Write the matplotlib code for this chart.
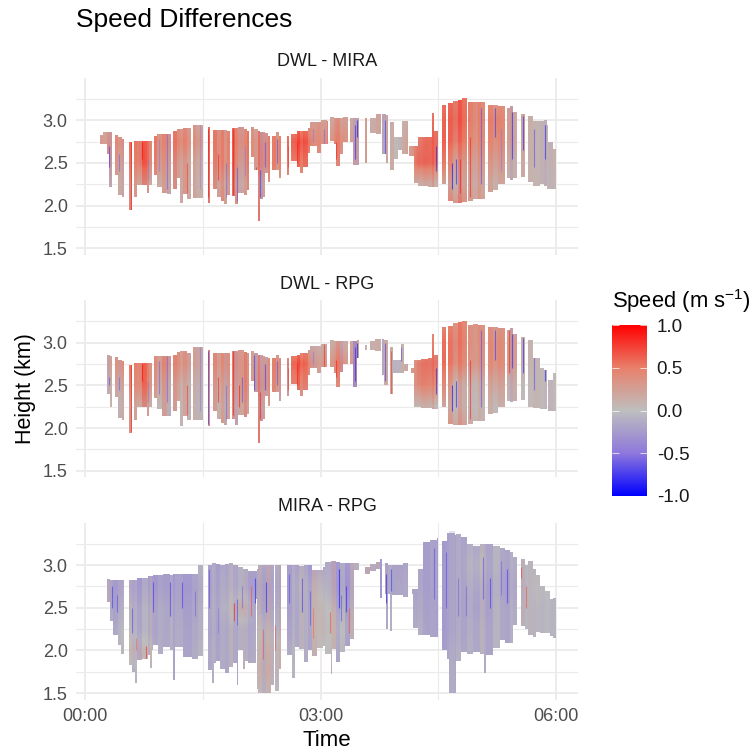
#!/bin/env python
# coding=utf-8

import numpy as np
import matplotlib
matplotlib.use("Agg")
import matplotlib.pyplot as plt
from matplotlib.colors import LinearSegmentedColormap, Normalize
from matplotlib.cm import ScalarMappable
from matplotlib.path import Path

plt.rcParams["font.family"] = "Liberation Sans"
plt.rcParams["mathtext.fontset"] = "custom"
plt.rcParams["mathtext.rm"] = "Liberation Sans"
plt.rcParams["mathtext.default"] = "rm"

panel_names = ["DWL - MIRA", "DWL - RPG", "MIRA - RPG"]
x_ticks = [0, 3, 6]
x_labels = ["00:00", "03:00", "06:00"]
y_ticks = [1.5, 2.0, 2.5, 3.0]
y_labels = ["1.5", "2.0", "2.5", "3.0"]
cbar_ticks = [-1.0, -0.5, 0.0, 0.5, 1.0]
GAP = (None, None, None)

# cloud columns, each row: left edge in hours, then (top km, base km, column mean m/s) or GAP
mira_cols = [
    (0.19, 2.83, 2.72, .3), (0.23, 2.86, 2.72, .1), (0.28, 2.86, 2.60, .5), (0.30, 2.86, 2.22, -.3),
    (0.34, *GAP),
    (0.38, 2.83, 2.36, .4), (0.42, 2.80, 2.12, .1), (0.47, 2.78, 2.10, -.2),
    (0.50, *GAP),
    (0.56, 2.74, 1.95, .7),
    (0.60, *GAP),
    (0.62, 2.76, 2.10, .5), (0.66, 2.76, 2.24, .2), (0.72, 2.76, 2.24, .8), (0.785, 2.76, 2.15, .6), (0.82, 2.76, 2.24, .1),
    (0.85, *GAP),
    (0.875, 2.82, 2.36, .6), (0.92, 2.84, 2.22, .1), (0.98, 2.84, 2.15, .5), (1.04, 2.84, 2.14, -.2),
    (1.095, *GAP),
    (1.125, 2.87, 2.20, .7), (1.175, 2.90, 2.32, .3), (1.21, 2.90, 2.03, .1), (1.245, 2.91, 2.14, .5), (1.295, 2.91, 2.08, .1),
    (1.345, *GAP),
    (1.37, 2.95, 2.09, .3), (1.42, 2.95, 2.09, .0),
    (1.50, *GAP),
    (1.566, 2.92, 2.03, .9),
    (1.595, *GAP),
    (1.634, 2.89, 2.20, .7), (1.68, 2.89, 2.10, .3), (1.727, 2.89, 2.06, .6), (1.775, 2.89, 2.02, .1), (1.81, 2.88, 2.13, .5),
    (1.846, *GAP),
    (1.87, 2.91, 2.11, .9), (1.91, 2.91, 2.02, .5), (1.95, 2.92, 2.15, -.1), (2.02, 2.90, 2.13, .4), (2.06, 2.88, 2.18, .7),
    (2.09, *GAP),
    (2.12, 2.92, 2.57, .3), (2.15, 2.90, 2.42, .0), (2.20, 2.88, 1.82, .8), (2.23, 2.86, 2.08, -.4), (2.27, 2.86, 2.10, .4), (2.29, 2.85, 2.38, -.2), (2.335, 2.82, 2.28, .6),
    (2.355, *GAP),
    (2.38, 2.82, 2.42, .6), (2.43, 2.86, 2.42, .1), (2.475, 2.82, 2.32, .5),
    (2.50, *GAP),
    (2.57, 2.82, 2.36, .6),
    (2.60, *GAP),
    (2.63, 2.84, 2.52, .6), (2.695, 2.87, 2.45, .9), (2.74, 2.87, 2.38, .5), (2.78, 2.87, 2.45, .8), (2.84, 2.91, 2.62, .4), (2.87, 2.98, 2.70, .2), (2.95, 2.98, 2.62, .4), (3.01, 3.00, 2.72, .2), (3.08, 2.99, 2.72, .6),
    (3.10, *GAP),
    (3.12, 3.04, 2.76, .1), (3.17, 3.03, 2.72, .5), (3.20, 3.03, 2.47, .6), (3.245, 3.03, 2.60, .2), (3.29, 3.04, 2.74, .3),
    (3.35, *GAP),
    (3.37, 3.03, 2.74, .1), (3.42, 3.03, 2.48, -.3),
    (3.49, *GAP),
    (3.565, 3.03, 2.50, .5),
    (3.595, *GAP),
    (3.63, 3.03, 2.85, .2), (3.71, 3.07, 2.84, .4),
    (3.765, *GAP),
    (3.78, 3.07, 2.60, -.4), (3.84, 3.06, 2.50, .4),
    (3.86, *GAP),
    (3.885, 2.98, 2.42, .3), (3.93, 2.80, 2.55, .0), (3.99, 2.80, 2.65, -.1), (4.04, 2.99, 2.61, .1),
    (4.11, *GAP),
    (4.13, 2.70, 2.58, .0), (4.19, 2.70, 2.26, .3), (4.245, 2.80, 2.23, .2), (4.30, 2.80, 2.23, .4),
    (4.365, *GAP),
    (4.375, 2.80, 2.22, .3), (4.42, 3.08, 2.22, .6), (4.445, 2.87, 2.22, .1),
    (4.50, *GAP),
    (4.55, 3.18, 2.25, .5),
    (4.605, *GAP),
    (4.63, 3.20, 2.05, .6), (4.69, 3.23, 2.03, .2), (4.755, 3.24, 2.03, .8), (4.80, 3.26, 2.04, .5),
    (4.86, *GAP),
    (4.885, 3.21, 2.05, .3), (4.945, 3.22, 2.08, .1), (5.00, 3.21, 2.08, .5), (5.05, 3.21, 2.08, .2),
    (5.09, *GAP),
    (5.13, 3.18, 2.16, .4), (5.20, 3.18, 2.18, .1), (5.26, 3.17, 2.25, .4),
    (5.345, *GAP),
    (5.37, 3.15, 2.32, .1), (5.41, 3.17, 2.30, -.3), (5.455, 3.10, 2.32, .1),
    (5.50, *GAP),
    (5.55, 3.07, 2.33, .3),
    (5.60, *GAP),
    (5.64, 3.05, 2.28, .1), (5.71, 2.99, 2.23, .0), (5.795, 2.99, 2.25, -.1), (5.845, 3.00, 2.23, -.2), (5.88, 2.95, 2.20, .0), (5.90, 2.75, 2.20, -.1), (5.965, 2.66, 2.19, .1),
    (6.0, *GAP),
]

rpg_cols = [
    (0.285, 2.86, 2.40, -.2), (0.32, 2.84, 2.25, .1),
    (0.35, *GAP),
    (0.38, 2.83, 2.36, .3), (0.42, 2.80, 2.12, -.1), (0.47, 2.78, 2.09, .2),
    (0.50, *GAP),
    (0.56, 2.74, 1.94, .6),
    (0.60, *GAP),
    (0.62, 2.76, 2.09, .4), (0.66, 2.76, 2.25, .2), (0.72, 2.76, 2.25, .8), (0.785, 2.76, 2.14, .5), (0.82, 2.76, 2.25, .1),
    (0.85, *GAP),
    (0.875, 2.84, 2.35, .4), (0.92, 2.84, 2.22, .0), (0.98, 2.84, 2.14, .6), (1.04, 2.84, 2.14, -.2),
    (1.095, *GAP),
    (1.125, 2.86, 2.20, .6), (1.175, 2.89, 2.32, .4), (1.21, 2.90, 2.02, .0), (1.245, 2.90, 2.14, .4), (1.295, 2.88, 2.09, -.1),
    (1.345, *GAP),
    (1.37, 2.95, 2.09, .2), (1.42, 2.95, 2.09, -.1),
    (1.50, *GAP),
    (1.566, 2.91, 2.02, .7),
    (1.595, *GAP),
    (1.634, 2.88, 2.20, .6), (1.68, 2.88, 2.10, .1), (1.727, 2.88, 2.06, .5), (1.775, 2.88, 2.03, -.2), (1.81, 2.88, 2.11, .4),
    (1.846, *GAP),
    (1.87, 2.90, 2.11, .6), (1.91, 2.90, 2.03, -.3), (1.95, 2.91, 2.15, .3), (2.02, 2.89, 2.13, .7), (2.06, 2.88, 2.16, .4),
    (2.09, *GAP),
    (2.12, 2.90, 2.55, .2), (2.15, 2.88, 2.42, -.3), (2.20, 2.86, 1.82, .8), (2.23, 2.85, 2.08, -.3), (2.27, 2.84, 2.10, .4), (2.29, 2.83, 2.38, -.2), (2.335, 2.82, 2.26, .5),
    (2.355, *GAP),
    (2.38, 2.82, 2.42, .6), (2.43, 2.85, 2.42, .2), (2.475, 2.82, 2.32, -.2),
    (2.50, *GAP),
    (2.57, 2.82, 2.38, -.2),
    (2.60, *GAP),
    (2.63, 2.84, 2.52, .6), (2.695, 2.86, 2.45, .9), (2.74, 2.88, 2.38, .5), (2.78, 2.88, 2.45, .7), (2.84, 2.92, 2.62, .3), (2.87, 2.96, 2.70, -.1), (2.95, 2.96, 2.64, .1), (3.01, 2.98, 2.71, .2),
    (3.085, *GAP),
    (3.12, 3.03, 2.71, .1), (3.17, 3.02, 2.65, .3), (3.20, 3.02, 2.48, .6), (3.245, 3.02, 2.66, -.3), (3.29, 3.02, 2.75, .1),
    (3.35, *GAP),
    (3.37, 3.02, 2.75, .3), (3.42, 3.02, 2.48, -.7), (3.46, 3.03, 2.82, .2),
    (3.49, *GAP),
    (3.565, 2.97, 2.92, .0),
    (3.595, *GAP),
    (3.63, 3.02, 2.92, .2), (3.69, 3.04, 2.90, .3),
    (3.765, *GAP),
    (3.78, 3.04, 2.62, -.4), (3.81, 3.03, 2.50, .4),
    (3.86, *GAP),
    (3.885, 2.95, 2.40, .4), (3.92, 2.80, 2.65, -.2), (4.03, 2.99, 2.65, .1), (4.06, 2.75, 2.67, .0),
    (4.11, *GAP),
    (4.15, 2.70, 2.65, .0), (4.19, 2.80, 2.25, .1), (4.28, 2.81, 2.24, .3),
    (4.365, *GAP),
    (4.375, 2.82, 2.23, .2), (4.42, 3.10, 2.22, .5), (4.445, 2.86, 2.22, .0),
    (4.50, *GAP),
    (4.55, 3.18, 2.25, .5),
    (4.605, *GAP),
    (4.63, 3.20, 2.05, .5), (4.69, 3.23, 2.03, .0), (4.755, 3.24, 2.03, .6), (4.80, 3.25, 2.04, .3),
    (4.86, *GAP),
    (4.885, 3.21, 2.05, .1), (4.945, 3.22, 2.08, .0), (5.00, 3.21, 2.08, .3), (5.05, 3.21, 2.08, .1),
    (5.09, *GAP),
    (5.13, 3.18, 2.16, .3), (5.20, 3.18, 2.18, .0), (5.26, 3.17, 2.25, .3),
    (5.345, *GAP),
    (5.37, 3.15, 2.32, .1), (5.41, 3.17, 2.30, -.3), (5.455, 3.10, 2.32, .3),
    (5.50, *GAP),
    (5.55, 3.07, 2.33, .0),
    (5.60, *GAP),
    (5.64, 3.03, 2.25, .0), (5.71, 2.82, 2.23, .1), (5.795, 2.70, 2.22, .0), (5.845, 2.68, 2.22, -.1),
    (5.89, *GAP),
    (5.90, 2.56, 2.20, -.1), (5.965, 2.64, 2.20, .0),
    (6.0, *GAP),
]

mr_cols = [
    (0.285, 2.84, 2.57, .2), (0.32, 2.83, 2.35, -.2), (0.36, 2.83, 2.18, -.4), (0.42, 2.83, 2.06, -.2), (0.455, 2.83, 1.96, -.1),
    (0.50, *GAP),
    (0.56, 2.83, 1.83, .1), (0.60, 2.82, 1.75, -.2), (0.635, 2.82, 1.62, -.1), (0.66, 2.85, 1.89, -.4), (0.72, 2.85, 1.90, .0), (0.80, 2.87, 1.95, -.3), (0.83, 2.87, 1.79, .2), (0.85, 2.87, 2.00, -.3), (0.87, 2.88, 2.06, -.4), (0.93, 2.88, 1.96, -.2), (0.99, 2.90, 2.04, -.3), (1.08, 2.88, 2.00, -.1), (1.12, 2.90, 1.65, -.4), (1.145, 2.90, 2.04, -.2), (1.25, 2.90, 1.92, -.4), (1.36, 2.90, 1.90, -.2), (1.44, 3.00, 1.93, .0),
    (1.50, *GAP),
    (1.566, 3.00, 1.77, -.3), (1.62, 3.02, 1.62, -.1), (1.64, 3.02, 1.85, -.2), (1.67, 3.01, 1.88, -.4), (1.72, 3.00, 1.78, -.2), (1.78, 3.01, 1.73, -.3), (1.84, 3.02, 1.80, .1), (1.89, 3.00, 1.85, -.3), (1.93, 3.00, 1.59, -.4), (1.955, 2.98, 2.00, -.1), (2.01, 2.95, 1.78, .2), (2.04, 2.95, 1.88, -.2), (2.08, 2.93, 1.85, -.4), (2.175, 2.93, 2.60, -.3), (2.195, 2.95, 1.55, -.2), (2.21, 3.00, 1.50, .2), (2.25, 3.00, 1.50, -.3), (2.31, 3.00, 1.50, .3), (2.37, 3.00, 1.60, -.2),
    (2.41, *GAP),
    (2.425, 3.00, 1.52, -.1), (2.47, 3.00, 1.78, .3),
    (2.50, *GAP),
    (2.57, 3.00, 1.95, -.4), (2.64, 3.00, 1.68, -.1), (2.67, 3.00, 2.04, -.3), (2.73, 2.99, 2.02, .1), (2.79, 3.00, 1.87, -.2), (2.84, 3.00, 2.00, -.5), (2.89, 2.94, 1.93, .3), (2.96, 2.94, 2.03, .1), (3.03, 2.98, 2.05, -.1), (3.06, 3.04, 1.96, .0), (3.13, 3.05, 1.72, .2), (3.15, 3.05, 2.02, .3), (3.20, 3.04, 1.86, -.4), (3.25, 3.03, 1.98, .0), (3.31, 3.02, 2.05, -.5), (3.37, 3.02, 2.13, .2), (3.43, 3.03, 2.94, .1),
    (3.49, *GAP),
    (3.565, 2.98, 2.90, .3), (3.63, 3.01, 2.93, .1), (3.71, 3.04, 2.95, .2), (3.76, 3.07, 2.62, -.5),
    (3.785, *GAP),
    (3.82, 3.03, 2.66, .2), (3.84, 3.03, 2.25, -.3), (3.86, 3.00, 2.66, -.1), (3.885, 3.00, 2.23, -.1), (3.905, 3.00, 2.65, -.3), (4.05, 3.02, 2.63, -.2),
    (4.11, *GAP),
    (4.16, 2.72, 2.66, -.1), (4.18, 2.72, 2.26, -.2), (4.245, 2.95, 2.18, -.1), (4.31, 3.27, 2.18, -.3), (4.39, 3.30, 2.16, -.2), (4.48, 3.32, 2.16, -.3),
    (4.50, *GAP),
    (4.55, 3.28, 2.00, -.4), (4.61, 3.38, 1.90, -.3), (4.64, 3.40, 1.50, -.2), (4.71, 3.35, 1.50, -.3), (4.73, 3.36, 1.88, -.1), (4.79, 3.33, 1.98, -.3), (4.86, 3.25, 1.96, -.1), (4.94, 3.22, 1.98, -.3), (5.03, 3.25, 1.96, .1), (5.08, 3.25, 1.73, -.2), (5.11, 3.25, 1.95, -.4), (5.20, 3.22, 2.03, .0), (5.29, 3.20, 2.12, -.3), (5.35, 3.18, 2.09, -.4), (5.41, 3.15, 2.09, -.1), (5.455, 3.10, 2.30, -.2),
    (5.50, *GAP),
    (5.55, 3.07, 2.29, .2), (5.60, 3.00, 2.25, .0), (5.64, 3.05, 2.18, .1), (5.71, 2.95, 2.16, -.1), (5.75, 2.88, 2.22, .1), (5.795, 2.75, 2.20, -.1), (5.86, 2.70, 2.20, .0), (5.925, 2.60, 2.17, -.1), (5.965, 2.62, 2.14, -.1),
    (6.0, *GAP),
]

# mean difference in m/s read on a coarse grid, rows are heights, columns every 15 min
grid_z = [3.25, 3.0, 2.75, 2.5, 2.25, 2.0, 1.75, 1.5]
grid_t = [0, 0.25, 0.5, 0.75, 1.0, 1.25, 1.5, 1.75, 2.0, 2.25, 2.5, 2.75, 3.0, 3.25, 3.5, 3.75, 4.0, 4.25, 4.5, 4.75, 5.0, 5.25, 5.5, 5.75, 6.0]
mira_vals = [
    [.2, .2, .2, .2, .2, .2, .2, .2, .2, .2, .2, .2, .2, .2, .2, .2, .2, .2, .5, .6, .5, .4, .2, .1, .1],
    [.1, .15, .3, .3, .3, .3, .25, .35, .35, .2, .2, .3, .25, .25, .15, .1, .05, .3, .65, .65, .5, .55, .2, .1, .05],
    [.2, .3, .5, .6, .45, .5, .4, .45, .5, .4, .5, .7, .4, .45, .2, .1, .05, .6, .7, .55, .45, .5, .2, .1, .1],
    [.2, .3, .3, .65, .3, .25, .2, .45, .35, .45, .45, .5, .35, .35, .2, .1, .05, .7, .65, .2, .3, .3, .1, .1, .1],
    [.15, .1, .2, .2, .15, .2, .15, .2, .2, .15, .15, .2, .2, .2, .15, .1, .1, .1, .1, .05, .2, .1, .1, .1, .05],
    [.2, .2, .25, .2, .2, .2, .2, .3, .3, .3, .2, .2, .2, .2, .2, .2, .2, .2, .4, .35, .25, .2, .2, .2, .2],
    [.2, .2, .2, .2, .2, .2, .2, .2, .2, .3, .2, .2, .2, .2, .2, .2, .2, .2, .2, .2, .2, .2, .2, .2, .2],
    [.2, .2, .2, .2, .2, .2, .2, .2, .2, .2, .2, .2, .2, .2, .2, .2, .2, .2, .2, .2, .2, .2, .2, .2, .2],
]
rpg_vals = [
    [.15, .15, .15, .15, .15, .15, .15, .15, .15, .15, .15, .15, .15, .15, .15, .15, .15, .15, .35, .5, .45, .35, .15, .05, .05],
    [.05, .05, .15, .2, .2, .3, .2, .3, .25, .1, .15, .2, .1, .15, .15, .05, .05, .2, .6, .55, .45, .5, .25, .05, .05],
    [.05, .2, .5, .55, .35, .4, .2, .4, .35, .25, .5, .65, .3, .5, .15, .05, .0, .6, .65, .5, .4, .5, .25, .05, .05],
    [.05, .1, .25, .55, .15, .15, .1, .2, .3, .35, .35, .4, .2, .3, .15, .05, .05, .55, .5, .05, .1, .25, .05, .05, .05],
    [.05, .05, .1, .15, .05, .1, .05, .1, .15, .15, .15, .1, .1, .1, .1, .05, .05, .05, .05, .05, .05, .05, .05, .05, .05],
    [.1, .1, .2, .15, .1, .1, .1, .2, .2, .3, .1, .1, .1, .1, .1, .1, .1, .1, .3, .25, .1, .1, .1, .1, .1],
    [.1, .1, .1, .1, .1, .1, .1, .1, .1, .3, .1, .1, .1, .1, .1, .1, .1, .1, .1, .1, .1, .1, .1, .1, .1],
    [.1, .1, .1, .1, .1, .1, .1, .1, .1, .1, .1, .1, .1, .1, .1, .1, .1, .1, .1, .1, .1, .1, .1, .1, .1],
]
mr_vals = [
    [-.15, -.15, -.15, -.15, -.15, -.15, -.15, -.15, -.15, -.15, -.15, -.15, -.15, -.15, -.15, -.15, -.15, -.2, -.2, -.15, -.1, -.1, -.1, -.1, -.1],
    [-.1, -.1, -.2, -.2, -.2, -.2, -.1, -.15, -.1, -.1, -.15, -.15, -.2, -.2, -.1, -.15, -.15, -.2, -.2, -.15, .0, -.1, -.1, -.05, -.05],
    [-.1, -.15, -.2, -.2, -.2, -.2, -.2, -.1, -.1, -.2, -.2, -.05, -.05, -.25, -.15, -.2, -.1, -.2, -.2, -.15, -.1, -.15, -.15, .0, -.05],
    [-.1, -.15, -.1, -.1, -.1, -.15, -.15, -.05, .15, -.15, -.15, -.1, .05, -.1, -.1, -.1, -.1, -.15, -.2, -.15, -.15, -.1, -.1, -.05, -.05],
    [-.1, -.1, .0, -.1, -.1, -.1, -.15, -.1, -.1, .0, -.1, -.1, .05, .0, -.1, -.1, -.1, -.1, -.2, -.15, -.1, -.1, -.1, -.05, -.05],
    [-.1, -.1, .05, .1, -.1, -.1, -.1, -.1, -.1, .05, .05, -.1, .0, -.05, -.1, -.1, -.1, -.1, -.15, -.1, -.1, -.1, -.1, -.1, -.1],
    [-.1, -.1, -.1, .0, -.1, -.1, -.1, -.1, -.1, .1, .05, -.1, -.1, -.1, -.1, -.1, -.1, -.1, -.1, -.1, -.1, -.1, -.1, -.1, -.1],
    [-.1, -.1, -.1, -.1, -.1, -.1, -.1, -.1, -.1, .0, .0, -.1, -.1, -.1, -.1, -.1, -.1, -.1, -.1, -.1, -.1, -.1, -.1, -.1, -.1],
]

# thin streaks that stand out from the grid: time, base, top, value
mira_st_t = [0.31, 0.36, 0.43, 0.58, 0.72, 0.80, 0.94, 1.04, 1.10, 1.30, 1.47, 1.57, 1.70, 1.80, 1.88, 1.93, 2.04, 2.18, 2.23, 2.29, 2.44, 2.58, 2.70, 2.90, 3.05, 3.20, 3.44, 3.46, 3.82, 3.86, 4.02, 4.47, 4.60, 4.68, 4.72, 4.78, 4.90, 5.05, 5.22, 5.30, 5.44, 5.58, 5.72, 5.86]
mira_st_lo = [2.45, 2.65, 2.40, 1.95, 2.55, 2.30, 2.40, 2.20, 2.20, 2.15, 2.20, 2.10, 2.30, 2.10, 2.12, 2.05, 2.35, 2.10, 2.10, 2.45, 2.50, 2.45, 2.50, 2.75, 2.72, 2.55, 2.55, 2.80, 2.55, 2.75, 2.85, 2.40, 2.45, 2.20, 2.25, 2.15, 2.10, 2.25, 2.80, 2.40, 2.55, 2.65, 2.45, 2.55]
mira_st_hi = [2.70, 2.85, 2.60, 2.74, 2.75, 2.55, 2.78, 2.84, 2.85, 2.50, 2.95, 2.90, 2.60, 2.50, 2.90, 2.45, 2.70, 2.45, 2.42, 2.75, 2.78, 2.70, 2.75, 2.90, 2.90, 2.75, 2.95, 3.00, 3.00, 3.05, 2.95, 2.70, 3.15, 2.50, 2.55, 2.55, 2.80, 3.15, 3.15, 2.90, 3.10, 3.05, 2.90, 2.95]
mira_st_v = [-.8, .9, -.6, .9, 1.0, -.5, -.5, -.6, .8, .8, -.4, .95, .9, -.6, .95, -.7, -.5, .95, -.8, -.7, -.7, .8, .9, -.5, -.6, .9, -.9, -1.0, -.8, -.8, -.5, -.9, 1.0, -1.0, -.9, .95, .9, -.7, -.8, -.5, -.9, -.9, -.7, -.9]
rpg_st_t = [0.31, 0.43, 0.58, 0.72, 0.80, 0.94, 1.04, 1.30, 1.47, 1.57, 1.70, 1.80, 1.88, 1.96, 2.00, 2.15, 2.23, 2.29, 2.44, 2.58, 2.70, 2.90, 3.04, 3.20, 3.44, 3.46, 3.82, 3.90, 4.02, 4.47, 4.60, 4.68, 4.72, 4.90, 5.05, 5.22, 5.40, 5.44, 5.58, 5.72, 5.86]
rpg_st_lo = [2.50, 2.45, 1.95, 2.55, 2.30, 2.40, 2.30, 2.15, 2.20, 2.05, 2.30, 2.10, 2.15, 2.25, 2.30, 2.45, 2.10, 2.45, 2.50, 2.45, 2.50, 2.75, 2.72, 2.60, 2.55, 2.80, 2.55, 2.40, 2.78, 2.40, 2.45, 2.20, 2.25, 2.10, 2.25, 2.80, 2.65, 2.70, 2.65, 2.45, 2.55]
rpg_st_hi = [2.60, 2.60, 2.74, 2.75, 2.55, 2.78, 2.84, 2.50, 2.95, 2.90, 2.60, 2.50, 2.90, 2.50, 2.60, 2.85, 2.42, 2.75, 2.78, 2.70, 2.75, 2.90, 2.98, 2.80, 2.95, 3.00, 3.00, 2.90, 2.95, 2.70, 3.15, 2.50, 2.55, 2.80, 3.15, 3.15, 3.15, 3.10, 3.05, 2.90, 2.95]
rpg_st_v = [-.7, -.6, .9, 1.0, -.5, -.6, -.6, .8, -.5, -.8, .9, -.6, .95, .95, -.7, -.8, .95, -.8, -.7, .8, .9, -.5, .9, .9, -.9, -1.0, -.8, .8, -.7, -.9, 1.0, -1.0, -.9, .9, -.7, -.8, .9, -.9, -.9, -.7, -.9]
mr_st_t = [0.35, 0.41, 0.60, 0.65, 0.78, 0.87, 1.08, 1.24, 1.40, 1.58, 1.70, 1.90, 1.93, 2.00, 2.12, 2.16, 2.27, 2.30, 2.42, 2.60, 2.77, 2.86, 2.91, 3.12, 3.24, 3.26, 3.33, 3.36, 3.84, 3.90, 4.44, 4.60, 4.75, 4.85, 5.07, 5.16, 5.30, 5.38, 5.56, 5.62]
mr_st_lo = [2.50, 2.45, 2.20, 2.00, 1.90, 2.45, 2.40, 2.50, 2.40, 2.50, 2.20, 2.35, 2.30, 2.50, 2.40, 2.55, 1.90, 2.45, 2.00, 2.55, 2.45, 2.30, 2.15, 2.20, 2.50, 2.35, 2.45, 2.20, 2.55, 2.70, 2.60, 2.50, 2.40, 2.40, 2.60, 2.50, 2.65, 2.55, 2.85, 2.50]
mr_st_hi = [2.75, 2.65, 2.50, 2.15, 2.05, 2.80, 2.80, 2.80, 2.70, 2.95, 2.50, 2.55, 2.60, 2.75, 2.75, 2.85, 2.25, 2.80, 2.30, 2.90, 2.85, 2.70, 2.50, 2.45, 2.95, 2.65, 2.75, 2.50, 2.90, 2.95, 3.20, 3.15, 2.85, 2.75, 3.10, 2.85, 3.05, 2.95, 2.98, 2.75]
mr_st_v = [-.8, -.7, -.7, .6, .9, -.8, -.8, -.8, -.6, -.7, -.5, .95, -.7, -.6, .7, -.9, .7, -.9, .7, -.7, -.8, -.7, .6, .7, -1.0, -.7, -.9, .7, -.9, -.8, -.7, -.7, -.6, -.6, -.7, -.8, -.6, -.8, .8, .7]

# 红蓝发散色带 中间是灰色
cmap = LinearSegmentedColormap.from_list(
    "speed",
    [(0.0, "#0000FF"), (0.25, "#8E78DC"), (0.5, "#BEBEBE"), (0.75, "#E8806A"), (1.0, "#FF0000")])
norm = Normalize(-1, 1)

W = H = 753.0
GRID = "#EBEBEB"
TEXT = "#4D4D4D"


def px_axes(left, top, right, bottom):
    return [left / W, 1 - bottom / H, (right - left) / W, (bottom - top) / H]


# 把每一列的矩形合成裁剪路径
def cloud_path(cols):
    rects = []
    for i in range(len(cols) - 1):
        t0, top, bot, _ = cols[i]
        if top is None:
            continue
        t1 = cols[i + 1][0]
        rects.append(Path([(t0, bot), (t1, bot), (t1, top), (t0, top), (t0, bot)], closed=True))
    return Path.make_compound_path(*rects)


def draw_panel(fig, y_top, name, cols, vals, st_t, st_lo, st_hi, st_v, last=False):
    ax = fig.add_axes(px_axes(76, y_top, 578, y_top + 177))

    im = ax.imshow(vals, cmap=cmap, norm=norm, aspect="auto", interpolation="bilinear",
                   extent=[grid_t[0] - 0.125, grid_t[-1] + 0.125, grid_z[-1] - 0.125, grid_z[0] + 0.125],
                   zorder=2)
    path = cloud_path(cols)
    im.set_clip_path(path, ax.transData)

    # 每列的平均值 半透明盖在上面 形成竖条纹
    for i in range(len(cols) - 1):
        t0, top, bot, v = cols[i]
        if top is None:
            continue
        ax.bar(t0, top - bot, width=cols[i + 1][0] - t0, bottom=bot, align="edge",
               color=cmap(norm(v)), alpha=0.3, linewidth=0, zorder=2.5)

    lines = ax.vlines(st_t, st_lo, st_hi, colors=cmap(norm(np.array(st_v))), linewidth=0.8, alpha=0.55, zorder=3)
    lines.set_clip_path(path, ax.transData)

    ax.set_xlim((76 - 85) / 78.5, (578 - 85) / 78.5)
    ax.set_ylim(3 - 134.7 / 85.33, 3 + 42.3 / 85.33)

    ax.set_xticks(x_ticks)
    ax.set_xticks([1.5, 4.5], minor=True)
    ax.set_yticks(y_ticks)
    ax.set_yticks([1.75, 2.25, 2.75, 3.25], minor=True)
    ax.grid(True, which="major", color=GRID, linewidth=1.3, zorder=0)
    ax.grid(True, which="minor", color=GRID, linewidth=0.8, zorder=0)
    ax.set_axisbelow(True)
    ax.set_yticklabels(y_labels)
    if last:
        ax.set_xticklabels(x_labels)
    else:
        ax.set_xticklabels([])
    ax.tick_params(which="both", length=0)
    ax.tick_params(axis="both", labelsize=13, labelcolor=TEXT, pad=6)
    for s in ax.spines.values():
        s.set_visible(False)
    fig.text(327 / W, 1 - (y_top - 16) / H, name, ha="center", va="center", fontsize=13, color="#1A1A1A")
    return ax


fig = plt.figure(figsize=(7.53, 7.53), dpi=100)

draw_panel(fig, 78.0, panel_names[0], mira_cols, mira_vals, mira_st_t, mira_st_lo, mira_st_hi, mira_st_v)
draw_panel(fig, 300.4, panel_names[1], rpg_cols, rpg_vals, rpg_st_t, rpg_st_lo, rpg_st_hi, rpg_st_v)
draw_panel(fig, 522.8, panel_names[2], mr_cols, mr_vals, mr_st_t, mr_st_lo, mr_st_hi, mr_st_v, last=True)

fig.text(76 / W, 1 - 20 / H, "Speed Differences", ha="left", va="center", fontsize=19, color="black")
fig.text(327 / W, 1 - 741 / H, "Time", ha="center", va="center", fontsize=16, color="black")
fig.text(25 / W, 1 - 389 / H, "Height (km)", ha="center", va="center", rotation=90, fontsize=15.5, color="black")

# 图例
cax = fig.add_axes(px_axes(612, 325, 647, 496))
cb = fig.colorbar(ScalarMappable(norm=norm, cmap=cmap), cax=cax)
cb.outline.set_visible(False)
cb.set_ticks(cbar_ticks)
cb.set_ticklabels(["-1.0", "-0.5", "0.0", "0.5", "1.0"])
cax.tick_params(length=0, labelsize=13.5, labelcolor="#1A1A1A", pad=7)
cax.hlines(cbar_ticks, 0, 0.2, colors="white", linewidth=0.5, transform=cax.get_yaxis_transform())
cax.hlines(cbar_ticks, 0.8, 1, colors="white", linewidth=0.5, transform=cax.get_yaxis_transform())
fig.text(612 / W, 1 - 301 / H, "Speed (m s$^{-1}$)", ha="left", va="center", fontsize=15.8, color="black")

fig.savefig("out.png", dpi=100)
